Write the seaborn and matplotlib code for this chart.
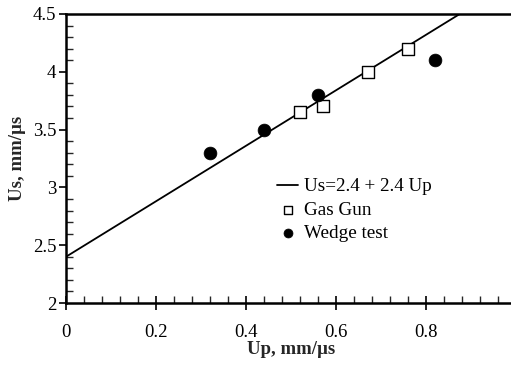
import numpy as np
import pandas as pd
import matplotlib
matplotlib.use("Agg")
import matplotlib.pyplot as plt
import seaborn as sns
from matplotlib.ticker import MultipleLocator

# Data
gas_up = [0.52, 0.57, 0.67, 0.76]
gas_us = [3.65, 3.70, 4.00, 4.20]
wedge_up = [0.32, 0.44, 0.56, 0.82]
wedge_us = [3.30, 3.50, 3.80, 4.10]
fit_intercept = 2.4
fit_slope = 2.4
fit_up = [0.0, 1.0]
fit_us = [fit_intercept + fit_slope * u for u in fit_up]
x_ticks = [0, 0.2, 0.4, 0.6, 0.8]
x_ticklabels = ["0", "0.2", "0.4", "0.6", "0.8"]
y_ticks = [2, 2.5, 3, 3.5, 4, 4.5]
y_ticklabels = ["2", "2.5", "3", "3.5", "4", "4.5"]

sns.set_theme(style="white")
plt.rcParams['font.family'] = ['Liberation Serif', 'DejaVu Serif']

fig = plt.figure(figsize=(5.11, 3.66), dpi=100)
W, H = 511, 366
left, right, top, bottom = 66, 516, 14, 303
ax = fig.add_axes([left / W, 1 - bottom / H, (right - left) / W, (bottom - top) / H])

fit_df = pd.DataFrame({"Up": fit_up, "Us": fit_us})
gas_df = pd.DataFrame({"Up": gas_up, "Us": gas_us})
wedge_df = pd.DataFrame({"Up": wedge_up, "Us": wedge_us})

sns.lineplot(data=fit_df, x="Up", y="Us", ax=ax, color="black", lw=1.3,
             label="Us=2.4 + 2.4 Up")
sns.scatterplot(data=gas_df, x="Up", y="Us", ax=ax, marker="s", s=80,
                facecolor="white", edgecolor="black", linewidth=1.0,
                label="Gas Gun", zorder=3)
sns.scatterplot(data=wedge_df, x="Up", y="Us", ax=ax, marker="o", s=85,
                color="black", edgecolor="black", linewidth=0.5,
                label="Wedge test", zorder=3)

ax.set_xlim(0, 1.0)
ax.set_ylim(2, 4.5)
ax.xaxis.set_minor_locator(MultipleLocator(0.04))
ax.yaxis.set_minor_locator(MultipleLocator(0.1))
ax.set_xticks(x_ticks)
ax.set_xticklabels(x_ticklabels)
ax.set_yticks(y_ticks)
ax.set_yticklabels(y_ticklabels)

for side in ["left", "bottom", "top"]:
    ax.spines[side].set_visible(True)
    ax.spines[side].set_color("black")
    ax.spines[side].set_linewidth(1.8)
ax.spines["right"].set_visible(False)

ax.tick_params(axis="y", which="major", direction="out", length=5, width=1.2,
               labelsize=13.5, colors="black", pad=2, left=True)
ax.tick_params(axis="y", which="minor", direction="in", length=5, width=1.0, left=True)
ax.tick_params(axis="x", which="major", direction="inout", length=10, width=1.2,
               labelsize=13.5, colors="black", pad=10, bottom=True)
ax.tick_params(axis="x", which="minor", direction="in", length=5, width=1.0, bottom=True)

ax.set_xlabel("Up, mm/µs", fontsize=13.5, fontweight="bold", labelpad=0)
ax.set_ylabel("Us, mm/µs", fontsize=13.5, fontweight="bold", labelpad=5)

leg = ax.legend(loc="upper left", bbox_to_anchor=(277 / W, 1 - 178 / H),
                bbox_transform=fig.transFigure, frameon=False, fontsize=13.8,
                handlelength=1.1, handletextpad=0.3, labelspacing=0.3,
                borderpad=0, borderaxespad=0, markerscale=0.7)
for t in leg.get_texts():
    t.set_color("black")

fig.savefig("out.png", dpi=100)
